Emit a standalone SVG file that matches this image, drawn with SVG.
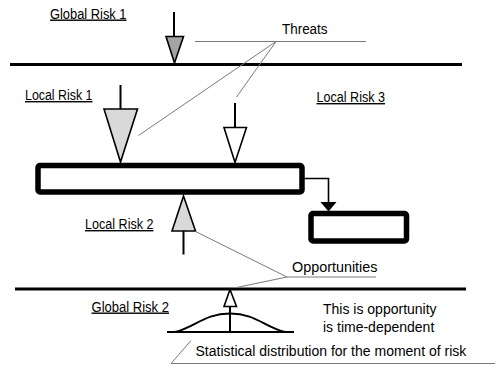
<svg xmlns="http://www.w3.org/2000/svg" width="500" height="372" viewBox="0 0 500 372">
<style>
text{font-family:"Liberation Sans",Arial,sans-serif;fill:#000}
.lbl{font-size:14px;text-decoration:underline}
.t14{font-size:14px}
.axis{stroke:#000;stroke-width:3;fill:none}
.thin{stroke:#7a7a7a;stroke-width:1;fill:none}
.stem{stroke:#000;stroke-width:2;fill:none}
.tri{stroke:#000;stroke-width:1.6;stroke-linejoin:miter}
.box{fill:#fff;stroke:#000;stroke-width:5.5}
</style>
<rect width="500" height="372" fill="#fff"/>
<g id="axes">
<line class="axis" x1="10" y1="64.5" x2="462" y2="64.5"/>
<line class="axis" x1="15" y1="289" x2="466" y2="289"/>
</g>
<g id="labels">
<text class="lbl" x="50" y="18.5" textLength="76.5" lengthAdjust="spacingAndGlyphs">Global Risk 1</text>
<text class="lbl" x="25" y="100" textLength="67.5" lengthAdjust="spacingAndGlyphs">Local Risk 1</text>
<text class="lbl" x="316.5" y="102" textLength="68.5" lengthAdjust="spacingAndGlyphs">Local Risk 3</text>
<text class="lbl" x="85" y="229" textLength="68.5" lengthAdjust="spacingAndGlyphs">Local Risk 2</text>
<text class="lbl" x="91.5" y="311.5" textLength="77.5" lengthAdjust="spacingAndGlyphs">Global Risk 2</text>
<text x="282" y="33.5" font-size="14" textLength="45.5" lengthAdjust="spacingAndGlyphs">Threats</text>
<text class="t14" x="292" y="272" textLength="85.5" lengthAdjust="spacingAndGlyphs">Opportunities</text>
<text class="t14" x="323" y="314">This is opportunity</text>
<text class="t14" x="323" y="331.5">is time-dependent</text>
<text class="t14" x="195.5" y="355.5">Statistical distribution for the moment of risk</text>
</g>
<g id="node-main">
<rect class="box" x="38" y="165.5" width="264" height="26.5" rx="2"/>
</g>
<g id="node-result">
<rect class="box" x="311" y="213.5" width="95.5" height="27.5" rx="2"/>
</g>
<g id="global-risk-1">
<line class="stem" x1="174" y1="12" x2="174" y2="36"/>
<polygon class="tri" fill="#a3a3a3" points="166,36.5 183.5,36.5 174.5,63"/>
</g>
<g id="local-risk-1">
<line class="stem" x1="120.5" y1="85" x2="120.5" y2="109"/>
<polygon class="tri" fill="#d9d9d9" points="104,109 137.5,109 120.5,162"/>
</g>
<g id="local-risk-3">
<line class="stem" x1="235" y1="103" x2="235" y2="127.5"/>
<polygon class="tri" fill="#fff" points="224,127.5 246.5,127.5 235,162.5"/>
</g>
<g id="local-risk-2">
<line class="stem" x1="183.5" y1="231" x2="183.5" y2="254.5"/>
<polygon class="tri" fill="#d9d9d9" points="183.5,196 172,231 195.5,231"/>
</g>
<g id="global-risk-2">
<line class="stem" x1="230" y1="306" x2="230" y2="332"/>
<polygon class="tri" fill="#fff" points="230,289.5 224,306.5 236.5,306.5"/>
<line class="stem" x1="167" y1="332" x2="294" y2="332"/>
<path class="stem" d="M175,332 C195,327 205,313.5 230,313.5 C255,313.5 265,327 285,332"/>
</g>
<g id="connectors">
<polyline points="302,178.5 328.5,178.5 328.5,203" fill="none" stroke="#000" stroke-width="1.6"/>
<polygon points="320.5,202 336.5,202 328.5,211.5" fill="#000"/>
<polyline class="thin" points="195,41.5 366,41.5"/>
<line class="thin" x1="276" y1="41.5" x2="138.5" y2="135.5"/>
<line class="thin" x1="276" y1="41.5" x2="236.5" y2="97"/>
<polyline class="thin" points="195.5,231.5 287,277 376,277"/>
<line class="thin" x1="287" y1="277" x2="236.5" y2="287.5"/>
<polyline class="thin" points="191,340.5 171,363.5 495,363.5"/>
</g>
</svg>
